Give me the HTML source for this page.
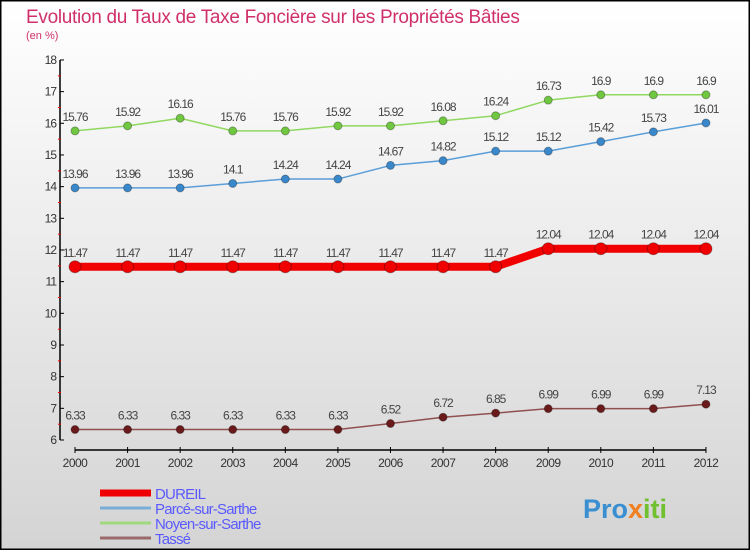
<!DOCTYPE html>
<html><head><meta charset="utf-8"><style>
body{margin:0;}
#c{width:750px;height:550px;position:relative;font-family:"Liberation Sans",sans-serif;}
</style></head><body>
<div id="c">
<svg id="s" width="750" height="550" xmlns="http://www.w3.org/2000/svg">
<defs><linearGradient id="bg" x1="0" y1="0" x2="0" y2="1"><stop offset="0" stop-color="#ffffff"/><stop offset="1" stop-color="#d4d4d4"/></linearGradient></defs>
<rect x="0.5" y="0.5" width="749" height="549" fill="url(#bg)" stroke="#000" stroke-width="2"/>
<text x="26" y="23" font-size="19" fill="#d0306a" letter-spacing="-0.3">Evolution du Taux de Taxe Foncière sur les Propriétés Bâties</text>
<text x="26" y="39" font-size="11" fill="#d0306a">(en %)</text>
<g id="axes"></g><g id="series"></g><g id="legend"></g>
<text x="583" y="518" font-size="27" font-weight="bold" fill="#3a8fd0">Pro<tspan fill="#f08020">x</tspan><tspan fill="#70c030">iti</tspan></text>
</svg>
</div>
<script>
const years=[2000,2001,2002,2003,2004,2005,2006,2007,2008,2009,2010,2011,2012];
const dureil=[11.47,11.47,11.47,11.47,11.47,11.47,11.47,11.47,11.47,12.04,12.04,12.04,12.04];
const parce=[13.96,13.96,13.96,14.1,14.24,14.24,14.67,14.82,15.12,15.12,15.42,15.73,16.01];
const noyen=[15.76,15.92,16.16,15.76,15.76,15.92,15.92,16.08,16.24,16.73,16.9,16.9,16.9];
const tasse=[6.33,6.33,6.33,6.33,6.33,6.33,6.52,6.72,6.85,6.99,6.99,6.99,7.13];
const yTicks=[6,7,8,9,10,11,12,13,14,15,16,17,18];
const NS="http://www.w3.org/2000/svg";
const X=i=>75+i*52.58, Y=v=>440-(v-6)*31.67;
function mk(p,t,a){const e=document.createElementNS(NS,t);for(const k in a)e.setAttribute(k,a[k]);p.appendChild(e);return e;}
const ax=document.getElementById('axes'),sg=document.getElementById('series'),lg=document.getElementById('legend');
let l=mk(ax,'line',{x1:60,y1:60,x2:60,y2:440,stroke:'#000','stroke-width':1.5});

l=mk(ax,'line',{x1:75,y1:450,x2:706,y2:450,stroke:'#000','stroke-width':1.5});

yTicks.forEach(v=>{const y=Y(v);
 mk(ax,'line',{x1:60,y1:y,x2:64,y2:y,stroke:'#000'});
 if(v<18)mk(ax,'line',{x1:58,y1:y-15.8,x2:61,y2:y-15.8,stroke:'#e00'});
 const t=mk(ax,'text',{x:56,y:y+4,'font-size':12,'text-anchor':'end',fill:'#333','letter-spacing':'-1'});t.textContent=v;
 });
years.forEach((yr,i)=>{const x=X(i);
 mk(ax,'line',{x1:x,y1:447,x2:x,y2:453,stroke:'#000'});
 const t=mk(ax,'text',{x:x,y:467,'font-size':12,'text-anchor':'middle',fill:'#333','letter-spacing':'-0.5'});t.textContent=yr;
 });
function series(name,data,color,w,dot,r){
 const g=mk(sg,'g',{});
 mk(g,'polyline',{points:data.map((v,i)=>X(i)+','+Y(v)).join(' '),fill:'none',stroke:color,'stroke-width':w,'stroke-linejoin':'round'});
 data.forEach((v,i)=>{const c=mk(g,'circle',{cx:X(i),cy:Y(v),r:r,fill:dot,stroke:'rgba(0,0,0,0.3)'});
  
  const t=mk(g,'text',{x:X(i),y:Y(v)-10,'font-size':12,'text-anchor':'middle',fill:'#444','letter-spacing':'-1'});t.textContent=v;
  });
}
series('noyen',noyen,'#90d860',1.5,'#70c840',4);
series('parce',parce,'#5a9ed8',1.5,'#3a88cc',4);
series('tasse',tasse,'#905050',1.5,'#6a1a1a',4);
series('dureil',dureil,'#f00000',8,'#f00000',6);
const leg=[['DUREIL','#f00000',7],['Parcé-sur-Sarthe','#7aaed8',3],['Noyen-sur-Sarthe','#a0d880',3],['Tassé','#9a6a6a',3]];
leg.forEach((e,i)=>{const y=493+i*15;
 const g=mk(lg,'g',{});
 mk(g,'line',{x1:100,y1:y,x2:151,y2:y,stroke:e[1],'stroke-width':e[2]});
 const t=mk(g,'text',{x:155,y:y+6,'font-size':15,fill:'#5a5aff','letter-spacing':'-0.8'});t.textContent=e[0];});
</script>
</body></html>
